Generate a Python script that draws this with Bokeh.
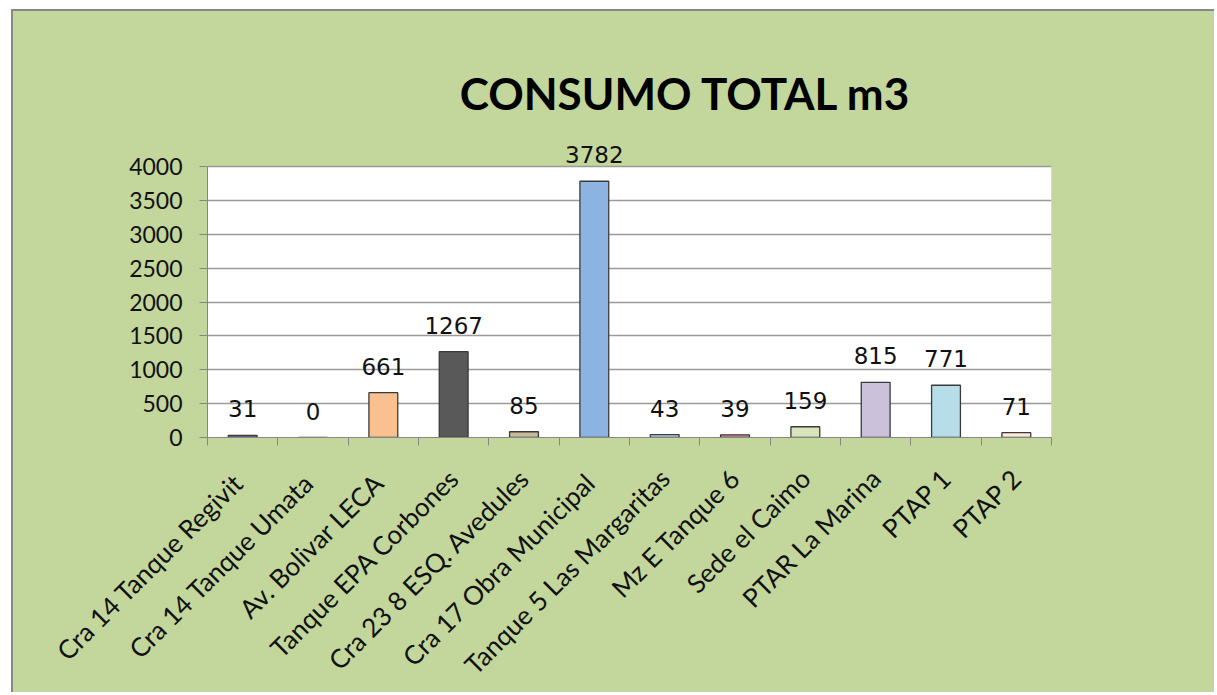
import math
from bokeh.plotting import figure
from bokeh.models import (Range1d, LinearAxis, FixedTicker, ColumnDataSource, LabelSet, Label,
                          BoxAnnotation)
from bokeh.core.properties import value
from bokeh.embed import file_html
from bokeh.resources import INLINE

# ---- data ----
categories = ["Cra 14  Tanque Regivit", "Cra 14  Tanque Umata", "Av. Bolivar  LECA",
              "Tanque EPA Corbones", "Cra 23 8 ESQ. Avedules", "Cra 17  Obra Municipal",
              "Tanque 5 Las Margaritas", "Mz E Tanque 6", "Sede el Caimo",
              "PTAR La Marina", "PTAP 1", "PTAP 2"]
values = [31, 0, 661, 1267, 85, 3782, 43, 39, 159, 815, 771, 71]
colors = ["#8064a2", "#f2f2f2", "#fac090", "#595959", "#c4bd97", "#8db3e2",
          "#b9cde5", "#d99694", "#d7e4bd", "#ccc1da", "#b7dee8", "#fde9d9"]
y_ticks = [0, 500, 1000, 1500, 2000, 2500, 3000, 3500, 4000]
title_text = "CONSUMO TOTAL m3"

n = len(categories)
centers = [i + 0.5 for i in range(n)]
src = ColumnDataSource(dict(x=centers, cat=categories, val=values, color=colors,
                            label=[str(v) for v in values]))

GREEN = "#c3d69b"
GRAY = "#868686"

# layout (pixels)
W, H = 1203, 683
LEFT, RIGHT, BOTTOM = 194, 165, 257
FRAME_H = H - BOTTOM          # frame reaches the top of the canvas
PLOT_H = 271                  # pixel height of the 0..4000 white plot area
y_top = max(y_ticks) * FRAME_H / PLOT_H

p = figure(x_range=Range1d(0, n), y_range=Range1d(0, y_top),
           width=W, height=H, output_backend="svg", toolbar_location=None,
           x_axis_type=None,
           min_border_left=LEFT, min_border_right=RIGHT, min_border_top=0,
           min_border_bottom=BOTTOM)
p.background_fill_color = GREEN
p.border_fill_color = GREEN
p.outline_line_color = None
p.styles = {"border-left": "2px solid #878787", "border-top": "2px solid #878787",
            "margin-left": "11px", "margin-top": "9px", "background-color": GREEN}

# white plot area
p.add_layout(BoxAnnotation(bottom=0, top=max(y_ticks), fill_color="white", fill_alpha=1,
                           line_color=None, level="image"))

# y axis
p.yaxis.ticker = FixedTicker(ticks=y_ticks)
p.yaxis.bounds = (0, max(y_ticks))
p.yaxis.axis_line_color = GRAY
p.yaxis.major_tick_line_color = GRAY
p.yaxis.major_tick_out = 8
p.yaxis.major_tick_in = 0
p.yaxis.minor_tick_line_color = None
p.yaxis.major_label_text_font = "Lato"
p.yaxis.major_label_text_font_size = "23px"
p.yaxis.major_label_text_color = "#111111"
p.yaxis.major_label_standoff = 17

p.ygrid.grid_line_color = "#9a9a9a"
p.ygrid.grid_line_width = 1.5
p.xgrid.visible = False

# boundary ticks axis (labels not drawn)
tick_axis = LinearAxis(ticker=FixedTicker(ticks=list(range(n + 1))),
                       major_label_text_font_size="1px", major_label_standoff=0,
                       major_label_text_color=None,
                       axis_line_color=GRAY, major_tick_line_color=GRAY,
                       major_tick_out=8, major_tick_in=0, minor_tick_line_color=None)
p.add_layout(tick_axis, "below")

# category labels axis
cat_axis = LinearAxis(ticker=FixedTicker(ticks=centers),
                      major_label_overrides={c: name for c, name in zip(centers, categories)},
                      axis_line_color=None, major_tick_line_color=None,
                      minor_tick_line_color=None,
                      major_label_orientation=math.pi / 4,
                      major_label_standoff=22,
                      major_label_text_font="Lato",
                      major_label_text_font_size="26px",
                      major_label_text_color="#111111")
p.add_layout(cat_axis, "below")

# bars
p.vbar(x="x", top="val", width=0.41, source=src, fill_color="color",
       line_color="#3a3a3a", line_width=1.3)

# value labels
labels = LabelSet(x="x", y="val", text="label", source=src, y_offset=18,
                  text_align="center", text_baseline="alphabetic",
                  text_font=value("DejaVu Sans"), text_font_size=value("23px"),
                  text_color="#111111")
p.add_layout(labels)

# title (data position: centred near x=6.8, about 5090 on the value scale)
title = Label(x=6.8, y=5090, text=title_text,
              text_font="Lato", text_font_style="bold", text_font_size="44px",
              text_align="center", text_baseline="middle", text_color="#000000")
p.add_layout(title)

open("out.html", "w").write(file_html(p, INLINE))
